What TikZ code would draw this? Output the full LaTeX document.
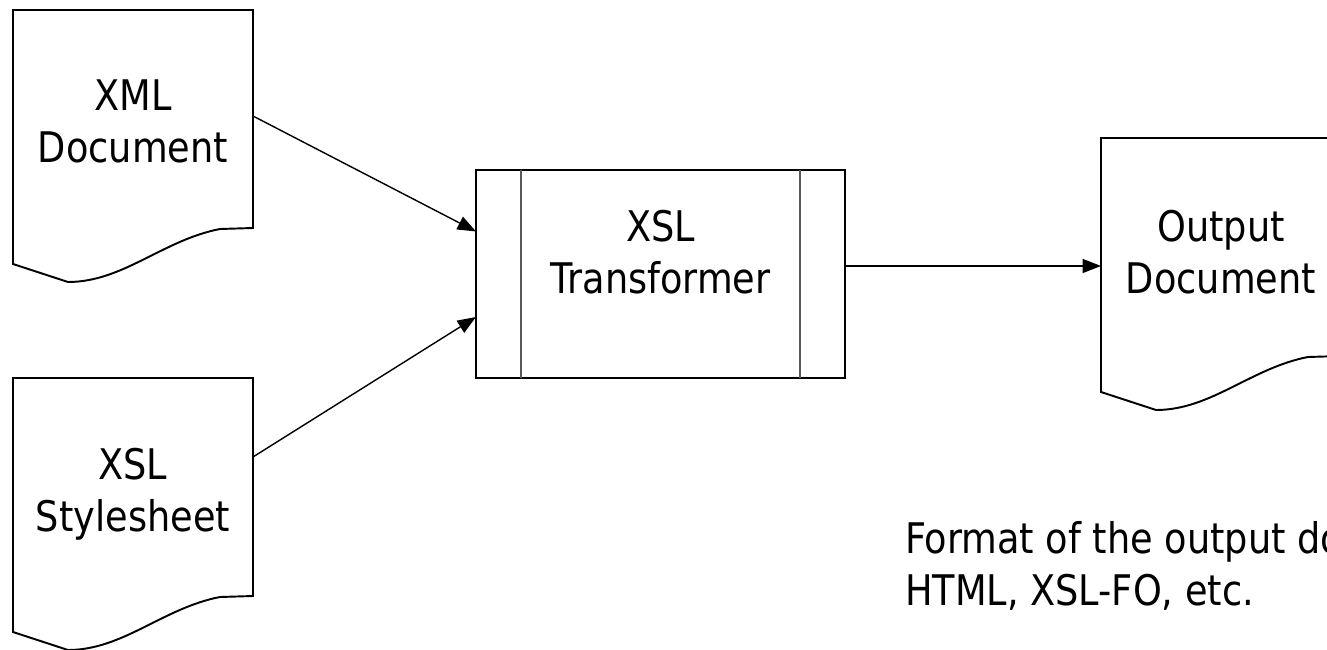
\documentclass[tikz,border=0pt]{standalone}
\usepackage{fontspec}
\setmainfont{DejaVu Sans}[FakeStretch=0.87]
\usetikzlibrary{arrows.meta,positioning}

\begin{document}
\begin{tikzpicture}[x=0.02cm, y=-0.02cm,
  every node/.style={inner sep=0pt, outer sep=0pt},
  doctext/.style={align=center, font=\fontsize{24}{29.6}\selectfont},
  sheet/.style={minimum width=4.8cm, minimum height=4.36cm, anchor=north west},
  outline/.style={line width=1.1pt},
  flow/.style={-{Triangle[length=10.5pt,width=8pt]}, line width=0.8pt},
  pics/paper/.style={code={
    \draw[outline] (0,0) -- (240,0) -- (240,218) -- (207,219)
      .. controls (150,230) and (110,272) .. (55,272) -- (0,254) -- cycle;
  }}]
  \useasboundingbox (0,0) rectangle (1327,649);
  \clip (0,0) rectangle (1327,649);

  % input documents
  \pic at (13,10) {paper};
  \node[sheet] (xml) at (13,10) {};
  \node[doctext, below=1.4cm of xml.north] (xmltext) {XML\\Document};

  \pic at (13,378) {paper};
  \node[sheet] (xsl) at (13,378) {};
  \node[doctext, below=1.4cm of xsl.north] (xsltext) {XSL\\Stylesheet};

  % transformer
  \node[draw, outline, minimum width=7.38cm, minimum height=4.16cm,
        anchor=north west] (xslt) at (476,170) {};
  \draw[line width=0.8pt, black!65] ([xshift=0.9cm]xslt.north west) -- ([xshift=0.9cm]xslt.south west);
  \draw[line width=0.8pt, black!65] ([xshift=-0.9cm]xslt.north east) -- ([xshift=-0.9cm]xslt.south east);
  \node[doctext, below=0.8cm of xslt.north] (xslttext) {XSL\\Transformer};

  % output document
  \pic at (1101,138) {paper};
  \node[sheet] (out) at (1101,138) {};
  \node[doctext, below=1.45cm of out.north] (outtext) {Output\\Document};

  \node[doctext, align=left, anchor=north west] (fmt) at (905,521)
    {Format of the output document:\\HTML, XSL-FO, etc.};

  % arrows
  \draw[flow] ([yshift=0.06cm]xml.east) -- ([yshift=0.85cm]xslt.west);
  \draw[flow] ([yshift=0.6cm]xsl.east) -- ([yshift=-0.86cm]xslt.west);
  \draw[flow] ([yshift=0.16cm]xslt.east) -- ([yshift=0.16cm]xslt.east -| out.west);
\end{tikzpicture}
\end{document}
